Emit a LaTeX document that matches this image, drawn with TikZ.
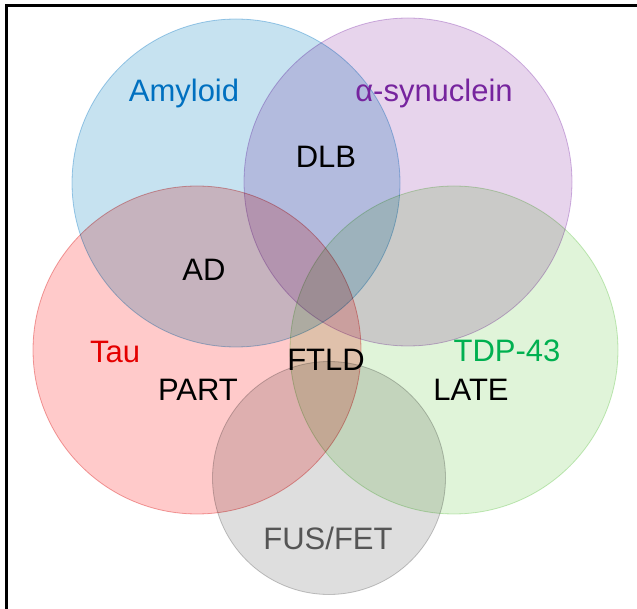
\documentclass[tikz,border=0pt]{standalone}
\usepackage{fontspec}
\setmainfont{Liberation Sans}
\usepackage{xcolor}
\usepackage{tikz}
\usetikzlibrary{positioning,shapes}
\definecolor{amyfill}{RGB}{198,226,240}
\definecolor{amyline}{RGB}{165,208,236}
\definecolor{synfill}{RGB}{231,212,236}
\definecolor{synline}{RGB}{212,184,228}
\definecolor{taufill}{RGB}{255,202,202}
\definecolor{tauline}{RGB}{240,165,165}
\definecolor{tdpfill}{RGB}{224,244,217}
\definecolor{tdpline}{RGB}{200,235,190}
\definecolor{fusfill}{RGB}{222,222,222}
\definecolor{fusline}{RGB}{200,200,200}
\definecolor{amytext}{RGB}{0,112,192}
\definecolor{syntext}{RGB}{118,36,158}
\definecolor{tautext}{RGB}{228,0,0}
\definecolor{tdptext}{RGB}{0,176,80}
\definecolor{fustext}{RGB}{85,85,85}
\tikzset{
    blob/.style={
        circle,
        inner sep=0pt,
        line width=0.8pt
    },
    label/.style={
        font=\fontsize{31}{36}\selectfont,
        inner sep=0pt
    }
}

\begin{document}
\begin{tikzpicture}[x=1pt,y=-1pt]
    \useasboundingbox (0,0) rectangle (637,609);
    \begin{scope}[blend group=multiply]
        \node (amyloid) [blob, minimum size=328pt, fill=amyfill, draw=amyline] at (236,183) {};
        \node (synuclein) [blob, minimum size=328pt, fill=synfill, draw=synline] at (408,182) {};
        \node (tau) [blob, minimum size=328pt, fill=taufill, draw=tauline] at (197,350) {};
        \node (tdp) [blob, minimum size=328pt, fill=tdpfill, draw=tdpline] at (454,350) {};
        \node (fus) [blob, minimum size=233pt, fill=fusfill, draw=fusline] at (329,478) {};
    \end{scope}
    % frame
    \draw [line width=3pt] (6,609) -- (6,6) -- (637,6);
    % group names
    \node (amyname) [label, text=amytext] at (184,93) {Amyloid};
    \node (synname) [label, text=syntext] at (434,93) {α-synuclein};
    \node (tauname) [label, text=tautext] at (115,352) {Tau};
    \node (tdpname) [label, text=tdptext] at (507,351) {TDP-43};
    \node (fusname) [label, text=fustext] at (328,538) {FUS/FET};
    % diseases
    \node (dlb) [label] at (326,157) {DLB};
    \node (ad) [label] at (204,270) {AD};
    \node (ftld) [label] at (326,360) {FTLD};
    \node (part) [label] at (198,390) {PART};
    \node (late) [label] at (471,390) {LATE};
\end{tikzpicture}
\end{document}
